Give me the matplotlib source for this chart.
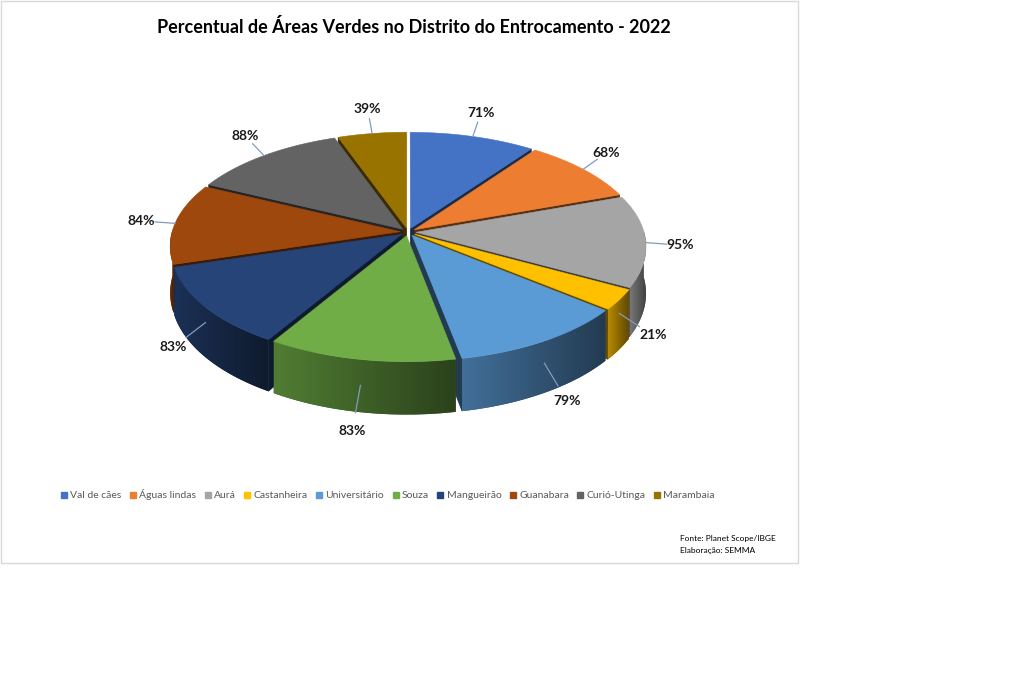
import numpy as np
import matplotlib
matplotlib.use("Agg")
import matplotlib.pyplot as plt
from matplotlib.patches import Polygon, Rectangle
from matplotlib.lines import Line2D
from matplotlib.colors import to_rgb

bairros = ["Val de cães", "Águas lindas", "Aurá", "Castanheira", "Universitário",
           "Souza", "Mangueirão", "Guanabara", "Curió-Utinga", "Marambaia"]
percentual = [71, 68, 95, 21, 79, 83, 83, 84, 88, 39]
cores = ["#4472C4", "#ED7D31", "#A5A5A5", "#FFC000", "#5B9BD5",
         "#70AD47", "#264478", "#9E480E", "#636363", "#997300"]

titulo = "Percentual de Áreas Verdes no Distrito do Entrocamento - 2022"
fonte = ["Fonte: Planet Scope/IBGE", "Elaboração: SEMMA"]

plt.rcParams['font.family'] = ['Lato', 'DejaVu Sans']

# geometria da pizza 3D (pixels)
cx, cy = 408, 232
rx, ry = 228, 109
depth = 46
persp = 0.126
explode = 0.035


def proj(theta, r, z, shift):
    X = r * np.sin(theta) + shift[0]
    V = r * np.cos(theta) + shift[1]
    s = 1.0 / (1.0 + persp * V)
    return (cx + rx * X * s, cy - ry * V * s + depth * z * s)


def shade(cor, f):
    return tuple(np.clip(np.array(to_rgb(cor)) * f, 0, 1))


fig = plt.figure(figsize=(10.24, 6.75), dpi=100)
ax = fig.add_axes([0, 0, 1, 1])
ax.set_xlim(0, 1024)
ax.set_ylim(675, 0)
ax.axis("off")

ax.add_patch(Rectangle((0.5, 0.5), 797, 562, facecolor="white", edgecolor="#d9d9d9", lw=1, zorder=0))

vals = np.array(percentual, dtype=float)
bordas = np.concatenate([[0], np.cumsum(vals)]) / vals.sum() * 2 * np.pi
meios = (bordas[:-1] + bordas[1:]) / 2

z = 1
ordem = np.argsort(-np.cos(meios))
for i in ordem:
    a, b, m = bordas[i], bordas[i + 1], meios[i]
    sh = (explode * np.sin(m), explode * np.cos(m))
    cor = cores[i]
    # faces radiais
    for ang, vis in ((a, np.sin(a) < 0), (b, np.sin(b) > 0)):
        if vis:
            quad = [proj(ang, 0, 0, sh), proj(ang, 1, 0, sh), proj(ang, 1, 1, sh), proj(ang, 0, 1, sh)]
            ax.add_patch(Polygon(quad, closed=True, facecolor=shade(cor, 0.38),
                                 edgecolor=shade(cor, 0.38), lw=0.5, zorder=z))
            z += 1
    # parede externa com gradiente
    th = np.linspace(a, b, 100)
    thv = th[np.cos(th) <= 0.02]
    if len(thv) > 1:
        cima = [proj(t, 1, 0, sh) for t in thv]
        baixo = [proj(t, 1, 1, sh) for t in thv[::-1]]
        parede = Polygon(cima + baixo, closed=True, facecolor=shade(cor, 0.55),
                         edgecolor="none", zorder=z)
        ax.add_patch(parede)
        z += 1
        xs = [p[0] for p in cima + baixo]
        ys = [p[1] for p in cima + baixo]
        f = np.linspace(0.72, 0.38, 64)
        grad = np.array([shade(cor, v) for v in f])[None, :, :]
        im = ax.imshow(grad, extent=[min(xs), max(xs), max(ys), min(ys)],
                       aspect="auto", interpolation="bilinear", zorder=z)
        im.set_clip_path(parede)
        z += 1
    # topo
    topo = [proj(0, 0, 0, sh)] + [proj(t, 1, 0, sh) for t in th]
    ax.add_patch(Polygon(topo, closed=True, facecolor=cor, edgecolor=cor, lw=0.4, zorder=z))
    z += 1

ax.set_xlim(0, 1024)
ax.set_ylim(675, 0)

# rótulos
for i, m in enumerate(meios):
    sh = (explode * np.sin(m), explode * np.cos(m))
    zr = 0.5 * max(-np.cos(m), 0)
    p0 = proj(m, 1.0, zr, sh)
    lx = proj(m, 1.15, zr, sh)[0]
    ly = proj(m, 1.3, zr, sh)[1]
    p1 = (p0[0] + 0.6 * (lx - p0[0]), p0[1] + 0.6 * (ly - p0[1]))
    ax.plot([p0[0], p1[0]], [p0[1], p1[1]], color="#7f9cc0", lw=0.9, zorder=z)
    ax.text(lx, ly, f"{percentual[i]}%", ha="center", va="center",
            fontsize=10, fontweight="bold", color="#1a1a1a", zorder=z + 1)

ax.text(414, 27, titulo, ha="center", va="center", fontsize=13, fontweight="bold", color="black")

handles = [Line2D([], [], marker="s", linestyle="none", markersize=4.5,
                  markerfacecolor=c, markeredgecolor=c) for c in cores]
leg = ax.legend(handles, bairros, loc="center", bbox_to_anchor=(388 / 1024, 1 - 495 / 675),
                ncol=10, frameon=False, fontsize=7.5, handlelength=0.6, handletextpad=0.3,
                columnspacing=0.8, borderaxespad=0)
for t in leg.get_texts():
    t.set_color("#595959")

ax.text(680, 538, fonte[0], ha="left", va="center", fontsize=6, color="black")
ax.text(680, 551, fonte[1], ha="left", va="center", fontsize=6, color="black")

fig.savefig("out.png", dpi=100, facecolor="white")
